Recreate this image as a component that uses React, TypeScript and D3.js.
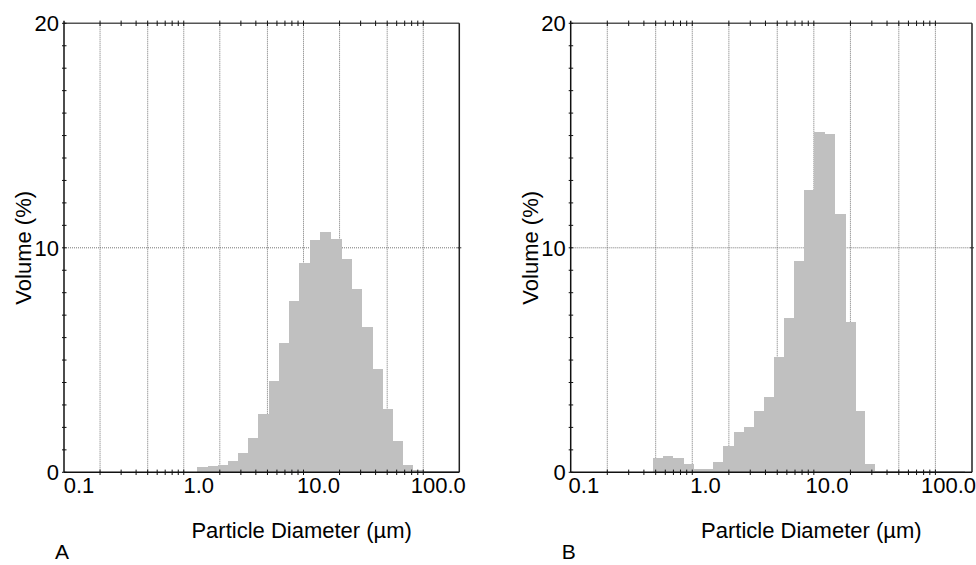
import React from "react";
import * as d3 from "d3";

// Bin edges (µm) and volume (%)
const binEdgesA = [0.974, 1.19, 1.44, 1.77, 2.14, 2.6, 3.15, 3.89, 4.72, 5.72, 6.93, 8.51, 10.3, 12.8, 15.7, 19.2, 23.3, 28.4, 34.5, 41.8, 50.6, 61.4, 74.4, 148];
const volumeA = [0.24, 0.29, 0.33, 0.5, 0.86, 1.55, 2.61, 4.07, 5.76, 7.65, 9.31, 10.35, 10.7, 10.39, 9.5, 8.17, 6.46, 4.6, 2.81, 1.38, 0.33, 0.1, 0.07];

const binEdgesB = [0.354, 0.433, 0.524, 0.641, 0.774, 0.931, 1.12, 1.35, 1.65, 2.0, 2.41, 2.92, 3.52, 4.26, 5.18, 6.26, 7.51, 9.26, 11.2, 13.7, 16.6, 19.7, 23.9, 131];
const volumeB = [0.62, 0.74, 0.62, 0.37, 0.16, 0.16, 0.46, 1.19, 1.78, 2.03, 2.73, 3.34, 5.12, 6.86, 9.41, 12.59, 15.14, 15.06, 11.52, 6.68, 2.73, 0.37, 0.06];

const xDomain = [0.075, 150];
const xTickLabels = [0.1, 1, 10, 100];
const xTickLabelText = ["0.1", "1.0", "10.0", "100.0"];
const decadeStarts = [0.15, 1.5, 15];
const minorMultipliers = [1, 1.5, 2, 2.5, 3, 3.5, 4, 4.5, 5];
const gridMultipliers = [1, 2.5, 5];
const yDomain = [0, 20];
const yLabels = [0, 10, 20];
const yGrid = [10];
const xTitle = "Particle Diameter (µm)";
const yTitle = "Volume (%)";

const FONT = "'Liberation Sans', Arial, Helvetica, sans-serif";
const FS = 22;
const TOP = 23.3;
const BOTTOM = 472.3;

type PanelProps = {
  left: number;
  right: number;
  edges: number[];
  values: number[];
  letter: string;
  labelDx: number;
};

function Panel({ left, right, edges, values, letter, labelDx }: PanelProps) {
  const x = d3.scaleLog().domain(xDomain).range([left, right]);
  const y = d3.scaleLinear().domain(yDomain).range([BOTTOM, TOP]);
  const minorTicks: number[] = [];
  decadeStarts.forEach((d) => minorMultipliers.forEach((m) => minorTicks.push(d * m)));
  const gridTicks: number[] = [];
  decadeStarts.forEach((d) => gridMultipliers.forEach((m) => gridTicks.push(d * m)));
  const yMinor = d3.range(yDomain[0], yDomain[1] + 1, 1);
  const cx = (left + right) / 2;

  return (
    <g>
      {gridTicks.map((t, i) => (
        <line key={"gx" + i} x1={x(t)} x2={x(t)} y1={TOP} y2={BOTTOM} stroke="#666" strokeWidth={0.9} strokeDasharray="1,1" />
      ))}
      {yGrid.map((v, i) => (
        <line key={"gy" + i} x1={left} x2={right} y1={y(v)} y2={y(v)} stroke="#666" strokeWidth={0.9} strokeDasharray="1,1" />
      ))}
      {values.map((v, i) => (
        <rect
          key={"b" + i}
          x={x(edges[i])}
          width={x(edges[i + 1]) - x(edges[i])}
          y={y(v)}
          height={y(0) - y(v)}
          fill="#c0c0c0"
          shapeRendering="crispEdges"
        />
      ))}
      <line x1={left} x2={right} y1={TOP} y2={TOP} stroke="#555" strokeWidth={1.5} />
      <line x1={right} x2={right} y1={TOP} y2={BOTTOM} stroke="#222" strokeWidth={1.5} />
      <line x1={left} x2={left} y1={TOP - 2.5} y2={BOTTOM} stroke="#111" strokeWidth={1.5} />
      <line x1={left} x2={right} y1={BOTTOM} y2={BOTTOM} stroke="#111" strokeWidth={1.5} />
      {minorTicks.map((t, i) => (
        <g key={"xt" + i}>
          <line x1={x(t)} x2={x(t)} y1={TOP - 2.7} y2={TOP + 2.7} stroke="#111" strokeWidth={1} />
          <line x1={x(t)} x2={x(t)} y1={BOTTOM - 2.7} y2={BOTTOM + 2.7} stroke="#111" strokeWidth={1} />
        </g>
      ))}
      {yMinor.map((v, i) => (
        <line key={"yt" + i} x1={left - 2} x2={left + 2.5} y1={y(v)} y2={y(v)} stroke="#111" strokeWidth={1} />
      ))}
      <line x1={right - 2} x2={right + 2} y1={y(10)} y2={y(10)} stroke="#333" strokeWidth={1} />
      {xTickLabels.map((t, i) => (
        <text key={"xl" + i} x={x(t) + labelDx} y={493} textAnchor="middle" fontFamily={FONT} fontSize={FS} fill="#000">
          {xTickLabelText[i]}
        </text>
      ))}
      {yLabels.map((v, i) => (
        <text key={"yl" + i} x={left - 5} y={y(v)} dy="0.36em" textAnchor="end" fontFamily={FONT} fontSize={FS} fill="#000">
          {v}
        </text>
      ))}
      <text x={cx + 40} y={538} textAnchor="middle" fontFamily={FONT} fontSize={FS} fill="#000">
        {xTitle}
      </text>
      <text
        transform={`translate(${left - 41},${(TOP + BOTTOM) / 2}) rotate(-90)`}
        dy="0.36em"
        textAnchor="middle"
        fontFamily={FONT}
        fontSize={FS}
        fill="#000"
      >
        {yTitle}
      </text>
      <text x={left - 9} y={559} fontFamily={FONT} fontSize={21} fill="#000">
        {letter}
      </text>
    </g>
  );
}

export default function App() {
  return (
    <svg
      width={976}
      height={565}
      style={{ position: "absolute", left: 0, top: 0, display: "block", background: "#fff" }}
    >
      <rect x={0} y={0} width={976} height={565} fill="#fff" />
      <Panel left={64} right={459.3} edges={binEdgesA} values={volumeA} letter="A" labelDx={0} />
      <Panel left={570.7} right={972} edges={binEdgesB} values={volumeB} letter="B" labelDx={-2} />
    </svg>
  );
}
